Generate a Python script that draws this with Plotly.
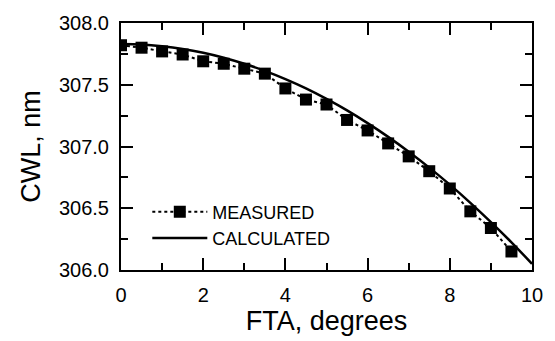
import plotly.graph_objects as go

# Measured data (FTA degrees, CWL nm)
fta_measured = [0, 0.5, 1.0, 1.5, 2.0, 2.5, 3.0, 3.5, 4.0, 4.5,
                5.0, 5.5, 6.0, 6.5, 7.0, 7.5, 8.0, 8.5, 9.0, 9.5]
cwl_measured = [307.82, 307.80, 307.77, 307.745, 307.69, 307.67, 307.63, 307.59, 307.47, 307.38,
                307.34, 307.215, 307.13, 307.025, 306.92, 306.80, 306.66, 306.475, 306.34, 306.15]

# Calculated curve
fta_calc = [0, 0.5, 1.0, 1.5, 2.0, 2.5, 3.0, 3.5, 4.0, 4.5, 5.0,
            5.5, 6.0, 6.5, 7.0, 7.5, 8.0, 8.5, 9.0, 9.5, 10.0]
cwl_calc = [307.83, 307.826, 307.812, 307.79, 307.759, 307.719, 307.67, 307.612, 307.545, 307.47, 307.385,
            307.292, 307.189, 307.078, 306.958, 306.829, 306.691, 306.544, 306.388, 306.224, 306.05]

x_ticks = [0, 2, 4, 6, 8, 10]
y_ticks = [306.0, 306.5, 307.0, 307.5, 308.0]

FONT = "Liberation Sans, Arial, sans-serif"

fig = go.Figure()
fig.add_trace(go.Scatter(
    x=fta_measured, y=cwl_measured, mode="lines+markers", name="MEASURED",
    line=dict(color="black", width=2, dash="dot"),
    marker=dict(symbol="square", size=12, color="black"),
))
fig.add_trace(go.Scatter(
    x=fta_calc, y=cwl_calc, mode="lines", name="CALCULATED",
    line=dict(color="black", width=2.5, shape="spline"),
))

axis_common = dict(
    showline=True, linecolor="black", linewidth=2, mirror="allticks",
    ticks="inside", ticklen=12, tickwidth=2, tickcolor="black",
    showgrid=False, zeroline=False,
    tickfont=dict(family=FONT, size=20, color="black"),
)

fig.update_xaxes(
    range=[0, 10], tickvals=x_ticks, ticktext=[str(v) for v in x_ticks],
    minor=dict(ticks="inside", dtick=1, ticklen=7, tickwidth=2, tickcolor="black", showgrid=False),
    title=dict(text="FTA, degrees", font=dict(family=FONT, size=27, color="black"), standoff=4),
    ticklabelstandoff=6,
    **axis_common,
)
fig.update_yaxes(
    range=[306.0, 308.0], tickvals=y_ticks, ticktext=[f"{v:.1f}" for v in y_ticks],
    minor=dict(ticks="inside", dtick=0.25, ticklen=7, tickwidth=2, tickcolor="black", showgrid=False),
    title=dict(text="CWL, nm", font=dict(family=FONT, size=27, color="black"), standoff=10),
    ticklabelstandoff=6,
    **axis_common,
)

fig.update_layout(
    width=555, height=341,
    margin=dict(l=121, r=15, t=17, b=65),
    plot_bgcolor="white", paper_bgcolor="white",
    font=dict(family=FONT, color="black"),
    legend=dict(
        x=0.064, y=0.31, xanchor="left", yanchor="top",
        bgcolor="rgba(0,0,0,0)", borderwidth=0,
        font=dict(family=FONT, size=18, color="black"),
        itemwidth=55,
    ),
)

fig.write_html("out.html")
